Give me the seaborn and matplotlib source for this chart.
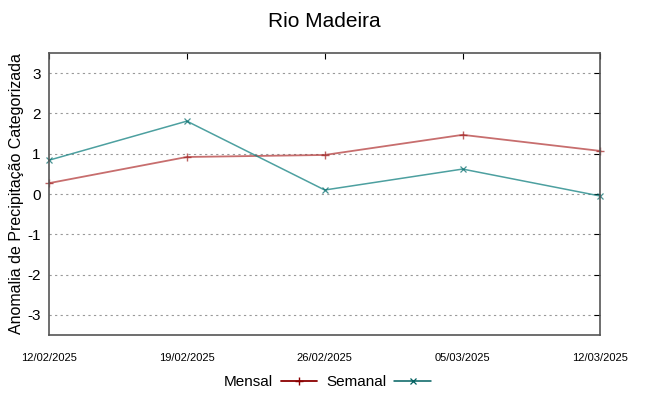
import pandas as pd
import matplotlib
matplotlib.use('Agg')
from matplotlib import pyplot as plt
import matplotlib.dates as mdates
import seaborn as sns

datas = ['2025-02-12', '2025-02-19', '2025-02-26', '2025-03-05', '2025-03-12']
mensal = [0.27, 0.92, 0.97, 1.47, 1.07]
semanal = [0.84, 1.81, 0.10, 0.62, -0.05]

df = pd.DataFrame({'data': pd.to_datetime(datas), 'Mensal': mensal, 'Semanal': semanal})

sns.set_style('white')
plt.rcParams['font.family'] = ['Liberation Sans', 'DejaVu Sans']
plt.rcParams['text.color'] = 'black'
plt.rcParams['xtick.color'] = 'black'
plt.rcParams['ytick.color'] = 'black'
plt.rcParams['axes.labelcolor'] = 'black'
plt.rcParams['axes.unicode_minus'] = False

fig = plt.figure(figsize=(6.48, 3.96), dpi=100)
ax = fig.add_axes([0.0756, 0.154, 0.851, 0.712])

sns.lineplot(x='data', y='Mensal', data=df, ax=ax, color='#b03030', alpha=0.7,
             linewidth=1.3, label='Mensal')
sns.lineplot(x='data', y='Semanal', data=df, ax=ax, color='#118080', alpha=0.75,
             linewidth=1.1, label='Semanal')

# gnuplot style point marks
ax.lines[0].set_marker('+')
ax.lines[0].set_markersize(6)
ax.lines[0].set_markeredgewidth(1)
ax.lines[0].set_markeredgecolor('#a02020')
ax.lines[1].set_marker('x')
ax.lines[1].set_markersize(5)
ax.lines[1].set_markeredgewidth(0.9)
ax.lines[1].set_markeredgecolor('#0a7070')
for ln in ax.lines[:2]:
    ln.set_clip_on(False)

ax.set_xlim(df['data'].iloc[0], df['data'].iloc[-1])
ax.set_ylim(-3.5, 3.5)
ax.set_xticks(df['data'])
ax.xaxis.set_major_formatter(mdates.DateFormatter('%d/%m/%Y'))
ax.set_yticks([-3, -2, -1, 0, 1, 2, 3])
ax.tick_params(axis='x', labelsize=8, direction='in', top=True, length=4, pad=13)
ax.tick_params(axis='y', labelsize=11, direction='in', right=True, length=4, pad=6)
ax.yaxis.grid(True, linestyle=(0, (2, 3)), color='#999999', linewidth=0.8)
for s in ax.spines.values():
    s.set_color('#555555')
    s.set_linewidth(1.2)

ax.set_xlabel('')
ax.set_ylabel('Anomalia de Precipitação Categorizada', fontsize=11.5, labelpad=2)
ax.set_title('Rio Madeira', fontsize=15, pad=19)

leg = ax.legend(loc='center', bbox_to_anchor=(0.505, -0.167), ncol=2, frameon=False,
                markerfirst=False, fontsize=11, handlelength=2.4, columnspacing=0.6,
                handletextpad=0.5)
for h in leg.legend_handles:
    h.set_alpha(1)
leg.legend_handles[0].set_color('#8b0000')
leg.legend_handles[0].set_marker('+')
leg.legend_handles[0].set_markersize(6)
leg.legend_handles[0].set_markeredgecolor('#8b0000')
leg.legend_handles[1].set_color('#006060')
leg.legend_handles[1].set_marker('x')
leg.legend_handles[1].set_markersize(4)
leg.legend_handles[1].set_markeredgecolor('#006060')

fig.savefig('out.png', dpi=100)
